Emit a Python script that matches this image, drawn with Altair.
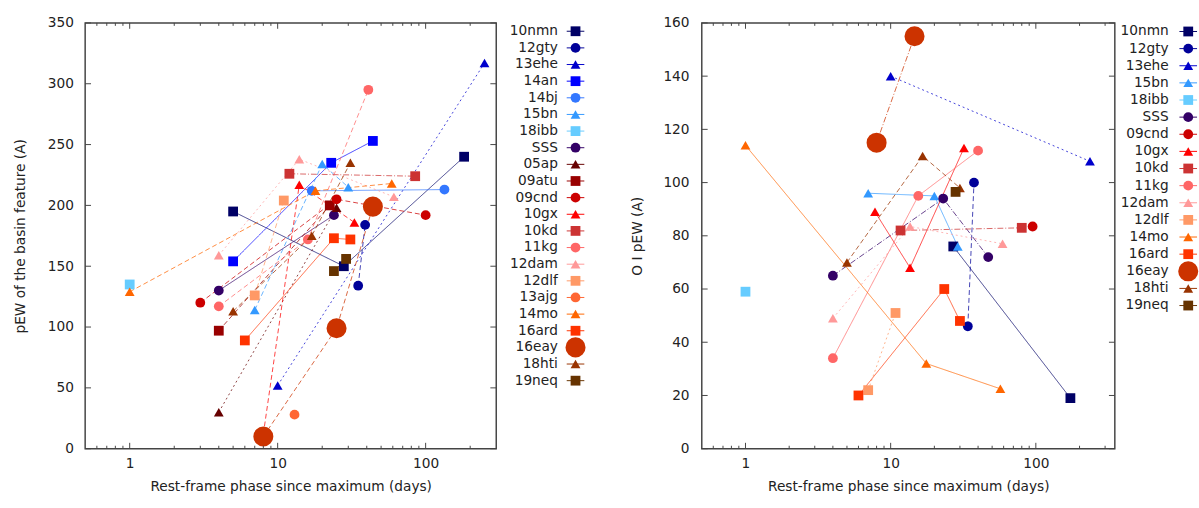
import altair as alt
import pandas as pd

FONT = "DejaVu Sans"
TXT = "#222222"
FRAME = "#444444"

# ---------------- legend order ----------------
left_names = ["10nmn", "12gty", "13ehe", "14an", "14bj", "15bn", "18ibb", "SSS", "05ap", "09atu",
              "09cnd", "10gx", "10kd", "11kg", "12dam", "12dlf", "13ajg", "14mo", "16ard", "16eay",
              "18hti", "19neq"]
right_names = ["10nmn", "12gty", "13ehe", "15bn", "18ibb", "SSS", "09cnd", "10gx", "10kd", "11kg",
               "12dam", "12dlf", "14mo", "16ard", "16eay", "18hti", "19neq"]

# ---------------- left panel: pEW of the basin feature ----------------
left_sn = ["10nmn", "10nmn", "10nmn", "12gty", "12gty", "13ehe", "13ehe", "14an", "14an", "14an",
           "14bj", "14bj", "15bn", "15bn", "15bn", "18ibb", "SSS", "SSS", "05ap", "05ap",
           "09atu", "09atu", "09cnd", "09cnd", "09cnd", "10gx", "10gx", "10gx", "10kd", "10kd",
           "11kg", "11kg", "11kg", "12dam", "12dam", "12dam", "12dlf", "12dlf", "13ajg",
           "14mo", "14mo", "14mo", "16ard", "16ard", "16ard", "16eay", "16eay", "16eay",
           "18hti", "18hti", "18hti", "19neq", "19neq"]
left_phase = [5, 28, 182, 35, 39, 10, 250, 5, 23, 44,
              17, 134, 7, 20, 30, 1, 4, 24, 4, 25,
              4, 22.5, 3, 25, 100, 8, 14, 33, 12, 85,
              4, 16, 41, 4, 14, 61, 7, 11, 13,
              1, 18, 59, 6, 24, 31, 8, 25, 44,
              5, 17, 31, 24, 29]
left_pew = [195, 150, 240, 134, 184, 52, 317, 154, 235, 253,
            212, 213, 114, 234, 215, 135, 130, 192, 30, 198,
            97, 200, 120, 205, 192, 12, 217, 186, 226, 224,
            117, 172, 295, 159, 238, 207, 126, 204, 28,
            129, 212, 218, 89, 173, 172, 10, 99, 199,
            113, 175, 235, 146, 156]

# ---------------- right panel: O I pEW ----------------
right_sn = ["10nmn", "10nmn", "12gty", "12gty", "13ehe", "13ehe", "15bn", "15bn", "15bn", "18ibb",
            "SSS", "SSS", "SSS", "09cnd", "10gx", "10gx", "10gx", "10kd", "10kd",
            "11kg", "11kg", "11kg", "12dam", "12dam", "12dam", "12dlf", "12dlf",
            "14mo", "14mo", "14mo", "16ard", "16ard", "16ard", "16eay", "16eay",
            "18hti", "18hti", "18hti", "19neq"]
right_phase = [27, 173, 34, 37.5, 10, 236, 7, 20, 29, 1,
               4, 23, 47, 95, 7.8, 13.6, 32, 11.7, 80,
               4, 15.5, 40, 4, 13.6, 59, 7, 10.8,
               1, 17.6, 57, 6, 23.4, 30, 8, 14.6,
               5, 16.6, 30, 28]
right_pew = [76, 19, 46, 100, 140, 108, 96, 95, 76, 59,
             65, 94, 72, 83.5, 89, 68, 113, 82, 83,
             34, 95, 112, 49, 83.5, 77, 22, 51,
             114, 32, 22.5, 20, 60, 48, 115, 155,
             70, 110, 98, 96.5]

# axis tick values
left_y_ticks = [0, 50, 100, 150, 200, 250, 300, 350]
right_y_ticks = [0, 20, 40, 60, 80, 100, 120, 140, 160]
x_major = [1, 10, 100]
x_minor = [0.6, 0.7, 0.8, 0.9, 2, 3, 4, 5, 6, 7, 8, 9, 20, 30, 40, 50, 60, 70, 80, 90, 200, 300]

# ---------------- styles ----------------
COLORS = {"10nmn": "#000066", "12gty": "#000099", "13ehe": "#0000cc", "14an": "#0000ff",
          "14bj": "#3377ff", "15bn": "#3399ff", "18ibb": "#66ccff", "SSS": "#330066",
          "05ap": "#660000", "09atu": "#990000", "09cnd": "#cc0000", "10gx": "#ff0000",
          "10kd": "#cc3333", "11kg": "#ff6666", "12dam": "#ff9999", "12dlf": "#ff9966",
          "13ajg": "#ff6633", "14mo": "#ff6600", "16ard": "#ff3300", "16eay": "#cc3300",
          "18hti": "#993300", "19neq": "#663300"}
SQ, CI, TR = "square", "circle", "triangle-up"
SHAPES = {"10nmn": SQ, "12gty": CI, "13ehe": TR, "14an": SQ, "14bj": CI, "15bn": TR, "18ibb": SQ,
          "SSS": CI, "05ap": TR, "09atu": SQ, "09cnd": CI, "10gx": TR, "10kd": SQ, "11kg": CI,
          "12dam": TR, "12dlf": SQ, "13ajg": CI, "14mo": TR, "16ard": SQ, "16eay": CI,
          "18hti": TR, "19neq": SQ}
BIG = "16eay"

SOLID, DASH, DOT, DASHDOT = [1, 0], [5, 3], [2, 3], [6, 2, 1, 2]
DASH_LEFT = {"10nmn": SOLID, "12gty": DASH, "13ehe": DOT, "14an": SOLID, "14bj": SOLID,
             "15bn": DASH, "18ibb": SOLID, "SSS": SOLID, "05ap": DOT, "09atu": DASH,
             "09cnd": DASH, "10gx": DASH, "10kd": DASHDOT, "11kg": DASH, "12dam": DOT,
             "12dlf": DASH, "13ajg": SOLID, "14mo": DASH, "16ard": SOLID, "16eay": DASH,
             "18hti": DASH, "19neq": SOLID}
DASH_RIGHT = {"10nmn": SOLID, "12gty": DASH, "13ehe": DOT, "15bn": SOLID, "18ibb": SOLID,
              "SSS": DASHDOT, "09cnd": SOLID, "10gx": SOLID, "10kd": DASHDOT, "11kg": SOLID,
              "12dam": DOT, "12dlf": DOT, "14mo": SOLID, "16ard": SOLID, "16eay": DASHDOT,
              "18hti": DASH, "19neq": SOLID}


def enc_scales(names, dash_map):
    color = alt.Color("sn:N", scale=alt.Scale(domain=names, range=[COLORS[n] for n in names]), legend=None)
    shape = alt.Shape("sn:N", scale=alt.Scale(domain=names, range=[SHAPES[n] for n in names]), legend=None)
    size = alt.condition(f"datum.sn == '{BIG}'", alt.value(420), alt.value(100))
    dash = alt.StrokeDash("sn:N", scale=alt.Scale(domain=names, range=[dash_map[n] for n in names]), legend=None)
    return color, shape, size, dash


def panel(sn, phase, val, names, dash_map, xdom, ydom, yticks, ytitle, W, H, ylabpad, ytitlepad):
    df = pd.DataFrame({"sn": sn, "phase": phase, "val": val})
    color, shape, size, dash = enc_scales(names, dash_map)
    xs = alt.Scale(type="log", domain=xdom, nice=False)
    ys = alt.Scale(domain=ydom, nice=False, zero=False)
    common_axis = dict(grid=False, domain=False, ticks=False, tickSize=0,
                       labelFont=FONT, labelFontSize=14, labelColor=TXT,
                       titleFont=FONT, titleFontSize=14, titleColor=TXT, titleFontWeight="normal")
    ax_x = alt.Axis(values=x_major, format="d", labelPadding=8, titlePadding=10,
                    title="Rest-frame phase since maximum (days)", **common_axis)
    ax_y = alt.Axis(values=yticks, format="d", labelPadding=ylabpad, titlePadding=ytitlepad,
                    title=ytitle, **common_axis)
    lines = alt.Chart(df).mark_line(strokeWidth=1, opacity=0.75).encode(
        x=alt.X("phase:Q", scale=xs, axis=ax_x),
        y=alt.Y("val:Q", scale=ys, axis=ax_y),
        color=color, strokeDash=dash, order=alt.Order("phase:Q"),
    )
    pts = alt.Chart(df).mark_point(filled=True, opacity=1).encode(
        x=alt.X("phase:Q", scale=xs, axis=ax_x),
        y=alt.Y("val:Q", scale=ys, axis=ax_y),
        color=color, shape=shape, size=size,
    )
    ydf = pd.DataFrame({"v": yticks})
    xmaj = pd.DataFrame({"v": x_major})
    xmin = pd.DataFrame({"v": [v for v in x_minor if xdom[0] < v < xdom[1]]})
    rule = dict(color=FRAME, strokeWidth=1)
    yk = alt.Y("v:Q", scale=ys, axis=ax_y)
    xk = alt.X("v:Q", scale=xs, axis=ax_x)
    t_left = alt.Chart(ydf).mark_rule(**rule).encode(y=yk, x=alt.value(0), x2=alt.value(6))
    t_right = alt.Chart(ydf).mark_rule(**rule).encode(y=yk, x=alt.value(W - 6), x2=alt.value(W))
    t_bot = alt.Chart(xmaj).mark_rule(**rule).encode(x=xk, y=alt.value(H), y2=alt.value(H - 6))
    t_top = alt.Chart(xmaj).mark_rule(**rule).encode(x=xk, y=alt.value(0), y2=alt.value(6))
    m_bot = alt.Chart(xmin).mark_rule(**rule).encode(x=xk, y=alt.value(H), y2=alt.value(H - 3))
    m_top = alt.Chart(xmin).mark_rule(**rule).encode(x=xk, y=alt.value(0), y2=alt.value(3))
    return alt.layer(lines, pts, t_left, t_right, t_bot, t_top, m_bot, m_top).properties(width=W, height=H)


def legend(names, dash_map, step, W, tx, sx):
    ldf = pd.DataFrame({"sn": names})
    color, shape, size, dash = enc_scales(names, dash_map)
    y = alt.Y("sn:N", sort=names, axis=None, scale=alt.Scale(type="point", domain=names, padding=0.5))
    sample = alt.Chart(ldf).mark_rule(strokeWidth=1).encode(
        y=y, x=alt.value(sx - 9), x2=alt.value(sx + 9), color=color)
    sym = alt.Chart(ldf).mark_point(filled=True, opacity=1).encode(
        y=y, x=alt.value(sx), color=color, shape=shape, size=size)
    txt = alt.Chart(ldf).mark_text(align="right", baseline="middle", font=FONT, fontSize=14,
                                    color=TXT).encode(y=y, x=alt.value(tx), text=alt.Text("sn:N"))
    return alt.layer(sample, sym, txt).properties(
        width=W, height=step * len(names), view=alt.ViewBackground(stroke="transparent"))


H = 435
left = panel(left_sn, left_phase, left_pew, left_names, DASH_LEFT, [0.5, 300], [0, 350],
             left_y_ticks, "pEW of the basin feature (A)", 420, H, 12, 20)
right = panel(right_sn, right_phase, right_pew, right_names, DASH_RIGHT, [0.5, 350], [0, 160],
              right_y_ticks, "O I pEW (A)", 422, H, 13, 19)
leg_l = legend(left_names, DASH_LEFT, 17, 132, 60, 78)
leg_r = legend(right_names, DASH_RIGHT, 17.5, 78, 52, 72)

chart = alt.hconcat(left, leg_l, right, leg_r, spacing=0).resolve_scale(
    x="independent", y="independent", color="independent", shape="independent",
    strokeDash="independent"
).properties(
    padding={"left": 13, "top": 10, "right": 0, "bottom": 0}
).configure_view(stroke=FRAME, strokeWidth=1.5)

chart.save("out.html", embed_options={"renderer": "svg", "actions": False})
